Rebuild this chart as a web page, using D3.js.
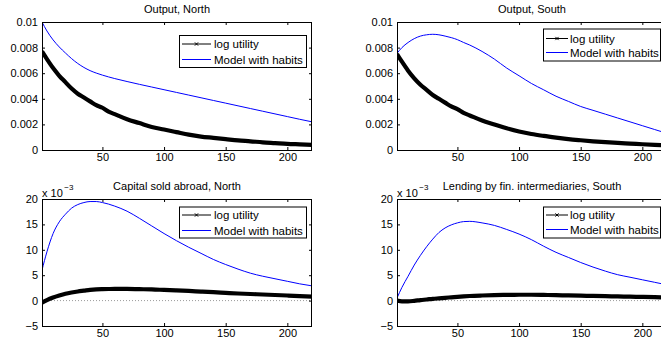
<!DOCTYPE html>
<html>
<head>
<meta charset="utf-8">
<script src="https://cdn.jsdelivr.net/npm/d3@7"></script>
<style>
  body { margin: 0; background: #fff; }
  svg text { font-family: "Liberation Sans", Arial, Helvetica, sans-serif; fill: #000; }
</style>
</head>
<body>
<svg id="fig" width="661" height="342"></svg>
<script>
// Impulse responses, periods 1..220 (sampled)
const periods = [1, 5, 10, 15, 20, 25, 30, 35, 40, 45, 50, 55, 60, 70, 80, 90, 100,
                 110, 120, 130, 140, 150, 160, 170, 180, 190, 200, 210, 220];

const outputNorthLog = [0.0077, 0.0071, 0.0064, 0.0058, 0.0053, 0.0048, 0.0044, 0.0041, 0.0038, 0.0035,
  0.0033, 0.0030, 0.0028, 0.0024, 0.0021, 0.0018, 0.0016, 0.0014, 0.0012, 0.00105, 0.00095, 0.00085,
  0.00075, 0.00068, 0.0006, 0.00054, 0.00048, 0.00044, 0.0004];
const outputNorthHabits = [0.0100, 0.0093, 0.0086, 0.00805, 0.00758, 0.00714, 0.00676, 0.00645, 0.0062, 0.00601,
  0.00585, 0.00571, 0.00558, 0.00535, 0.00513, 0.00492, 0.00471, 0.0045, 0.00429, 0.00408, 0.00387, 0.00366,
  0.00345, 0.00324, 0.00303, 0.00282, 0.00261, 0.0024, 0.0022];

const outputSouthLog = [0.0075, 0.0069, 0.0062, 0.0056, 0.0051, 0.0047, 0.0043, 0.0040, 0.0037, 0.0034,
  0.0032, 0.0029, 0.0027, 0.0023, 0.0020, 0.0017, 0.00145, 0.00125, 0.0011, 0.00097, 0.00085, 0.00076,
  0.00068, 0.00061, 0.00055, 0.0005, 0.00045, 0.0004, 0.00035];
const outputSouthHabits = [0.00755, 0.0080, 0.0084, 0.0087, 0.0089, 0.0090, 0.00904, 0.0090, 0.0089, 0.00878,
  0.00862, 0.0084, 0.0082, 0.0077, 0.0071, 0.0064, 0.0058, 0.0052, 0.0047, 0.0042, 0.0038, 0.0034,
  0.0031, 0.0028, 0.0025, 0.0022, 0.0019, 0.0016, 0.0013];

// Values below are in units of 10^-3
const capitalNorthLog = [-0.4, 0.1, 0.6, 1.0, 1.35, 1.6, 1.8, 1.95, 2.1, 2.2, 2.25, 2.28, 2.3, 2.3, 2.25,
  2.2, 2.1, 2.0, 1.9, 1.78, 1.65, 1.52, 1.4, 1.3, 1.2, 1.1, 1.0, 0.9, 0.8];
const capitalNorthHabits = [6.0, 9.6, 13.2, 15.5, 17.0, 18.2, 18.9, 19.3, 19.5, 19.5, 19.3, 19.0, 18.6, 17.6,
  16.2, 14.7, 13.2, 11.8, 10.5, 9.3, 8.1, 7.1, 6.2, 5.4, 4.8, 4.3, 3.8, 3.3, 2.9];

const lendingSouthLog = [0.0, -0.15, -0.15, -0.05, 0.1, 0.22, 0.35, 0.45, 0.55, 0.65, 0.75, 0.83, 0.9, 1.0,
  1.08, 1.13, 1.15, 1.15, 1.12, 1.07, 1.02, 0.97, 0.92, 0.87, 0.82, 0.77, 0.72, 0.67, 0.63];
const lendingSouthHabits = [0.5, 2.6, 4.8, 7.0, 8.9, 10.6, 12.1, 13.4, 14.3, 14.9, 15.3, 15.55, 15.6, 15.3,
  14.8, 14.0, 13.1, 12.0, 10.7, 9.5, 8.5, 7.5, 6.6, 5.8, 5.1, 4.6, 4.1, 3.6, 3.1];

const xTicks = [50, 100, 150, 200];
const yTicksOutput = [0, 0.002, 0.004, 0.006, 0.008, 0.01];
const yTicksScaled = [-5, 0, 5, 10, 15, 20];
const seriesNames = ["log utility", "Model with habits"];

const panels = [
  { title: "Output, North", log: outputNorthLog, habits: outputNorthHabits,
    left: 42, right: 312, top: 22, bottom: 150, yDomain: [0, 0.01], yTicks: yTicksOutput,
    scaled: false, legend: { x: 179, y: 35, w: 127, h: 32, lx1: 3, lx2: 32, tx: 35, row0: 9, gap: 15.5 } },
  { title: "Output, South", log: outputSouthLog, habits: outputSouthHabits,
    left: 397, right: 667, top: 22, bottom: 150, yDomain: [0, 0.01], yTicks: yTicksOutput,
    scaled: false, legend: { x: 543, y: 28.5, w: 117, h: 32, lx1: 3, lx2: 25, tx: 27, row0: 10, gap: 14 } },
  { title: "Capital sold abroad, North", log: capitalNorthLog, habits: capitalNorthHabits,
    left: 42, right: 312, top: 199, bottom: 326, yDomain: [-5, 20], yTicks: yTicksScaled,
    scaled: true, legend: { x: 179, y: 206.5, w: 127, h: 31, lx1: 3, lx2: 32, tx: 35, row0: 8.5, gap: 15.5 } },
  { title: "Lending by fin. intermediaries, South", log: lendingSouthLog, habits: lendingSouthHabits,
    left: 397, right: 667, top: 199, bottom: 326, yDomain: [-5, 20], yTicks: yTicksScaled,
    scaled: true, legend: { x: 543, y: 206.5, w: 117, h: 31, lx1: 3, lx2: 25, tx: 27, row0: 8.5, gap: 14.5 } }
];

const svg = d3.select("#fig");
const fmtY = d => (d < 0 ? "\u2212" + Math.abs(d) : String(d));

panels.forEach((p, i) => {
  const x = d3.scaleLinear().domain([1, 220]).range([p.left, p.right]);
  const y = d3.scaleLinear().domain(p.yDomain).range([p.bottom, p.top]);
  const g = svg.append("g");

  const clipId = "clip" + i;
  svg.append("clipPath").attr("id", clipId).append("rect")
    .attr("x", p.left).attr("y", p.top)
    .attr("width", p.right - p.left).attr("height", p.bottom - p.top);

  // zero reference line
  if (p.scaled) {
    g.append("line")
      .attr("x1", p.left).attr("x2", p.right)
      .attr("y1", y(0)).attr("y2", y(0))
      .attr("stroke", "#9a9a9a").attr("stroke-width", 1)
      .attr("stroke-dasharray", "1,2");
  }

  const line = d3.line()
    .x((d, k) => x(periods[k]))
    .y(d => y(d))
    .curve(d3.curveMonotoneX);

  const plot = g.append("g").attr("clip-path", `url(#${clipId})`);
  plot.append("path").datum(p.habits)
    .attr("d", line).attr("fill", "none")
    .attr("stroke", "#0000ff").attr("stroke-width", 1);
  plot.append("path").datum(p.log)
    .attr("d", line).attr("fill", "none")
    .attr("stroke", "#000").attr("stroke-width", 4.2)
    .attr("stroke-linejoin", "round");

  // axes with inward ticks on all four sides
  const ax = (gen, tx, ty) => g.append("g").attr("transform", `translate(${tx},${ty})`).call(gen);
  const styleAxis = sel => {
    sel.select(".domain").remove();
    sel.selectAll("line").attr("stroke", "#000");
    sel.selectAll("text").attr("font-size", 11).attr("font-family", null);
  };
  ax(d3.axisBottom(x).tickValues(xTicks).tickSizeInner(-3).tickSizeOuter(0).tickPadding(3), 0, p.bottom).call(styleAxis);
  ax(d3.axisTop(x).tickValues(xTicks).tickSizeInner(-3).tickSizeOuter(0).tickFormat(""), 0, p.top).call(styleAxis);
  ax(d3.axisLeft(y).tickValues(p.yTicks).tickSizeInner(-3).tickSizeOuter(0).tickPadding(4).tickFormat(fmtY), p.left, 0).call(styleAxis);
  ax(d3.axisRight(y).tickValues(p.yTicks).tickSizeInner(-3).tickSizeOuter(0).tickFormat(""), p.right, 0).call(styleAxis);

  g.append("rect")
    .attr("x", p.left + 0.5).attr("y", p.top + 0.5)
    .attr("width", p.right - p.left - 1).attr("height", p.bottom - p.top)
    .attr("fill", "none").attr("stroke", "#000").attr("stroke-width", 1);

  // title
  g.append("text")
    .attr("x", (p.left + p.right) / 2).attr("y", p.top - (p.scaled ? 9 : 9.5))
    .attr("text-anchor", "middle").attr("font-size", 11)
    .text(p.title);

  // exponent label
  if (p.scaled) {
    const t = g.append("text").attr("x", p.left).attr("y", p.top - 2.5).attr("font-size", 11);
    t.append("tspan").text("x 10");
    t.append("tspan").attr("font-size", 8).attr("dx", 1.5).attr("dy", -7).text("\u22123");
  }

  // legend
  const L = p.legend;
  const lg = g.append("g").attr("transform", `translate(${L.x},${L.y})`);
  lg.append("rect").attr("x", 0.5).attr("y", 0.5).attr("width", L.w).attr("height", L.h)
    .attr("fill", "#fff").attr("stroke", "#000").attr("stroke-width", 1);
  const rows = [
    { name: seriesNames[0], color: "#000", marker: true },
    { name: seriesNames[1], color: "#0000ff", marker: false }
  ];
  rows.forEach((r, k) => {
    const cy = L.row0 + k * L.gap;
    lg.append("line").attr("x1", L.lx1).attr("x2", L.lx2).attr("y1", cy).attr("y2", cy)
      .attr("stroke", r.color).attr("stroke-width", 1);
    if (r.marker) {
      lg.append("path")
        .attr("d", d3.symbol(d3.symbolX, 8)())
        .attr("transform", `translate(${(L.lx1 + L.lx2) / 2},${cy})`)
        .attr("fill", "none").attr("stroke", "#000").attr("stroke-width", 1);
    }
    lg.append("text").attr("x", L.tx).attr("y", cy + 4).attr("font-size", 11.5).text(r.name);
  });
});
</script>
</body>
</html>
